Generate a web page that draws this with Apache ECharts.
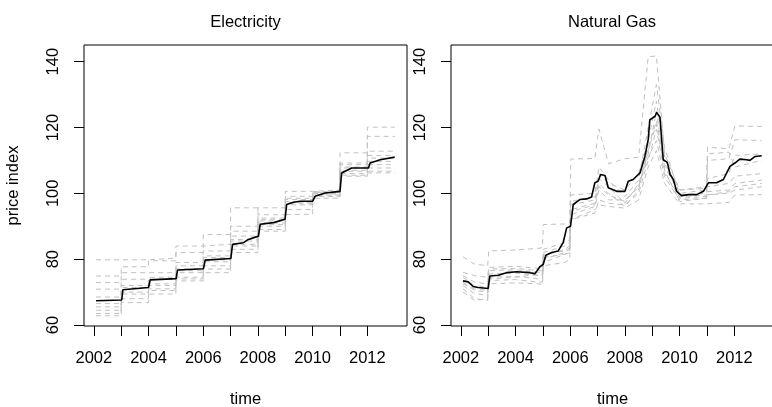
<!DOCTYPE html>
<html>
<head>
<meta charset="utf-8">
<script src="https://cdn.jsdelivr.net/npm/echarts@6/dist/echarts.min.js"></script>
<style>
html,body{margin:0;padding:0;background:#fff;}
#c{width:772px;height:407px;}
</style>
</head>
<body>
<div id="c"></div>
<script>
// ---------- DATA ----------
var panelTitles = ['Electricity', 'Natural Gas'];
var xTicks = [2002, 2003, 2004, 2005, 2006, 2007, 2008, 2009, 2010, 2011, 2012];
var xTickLabels = [2002, 2004, 2006, 2008, 2010, 2012];
var yTicks = [60, 80, 100, 120, 140];

// Electricity: yearly step points for individual (grey dashed) series
var elecYears = [2002.08, 2003, 2004, 2005, 2006, 2007, 2008, 2009, 2010, 2011, 2012, 2013.0];
var elecE1  = [79.8, 79.8, 80.3, 84.0, 84.5, 90.0, 95.6, 100.6, 101.0, 112.3, 120.1, 120.1];
var elecE2  = [74.9, 77.7, 79.5, 82.0, 87.5, 95.6, 93.5, 99.1, 100.3, 109.2, 117.3, 117.3];
var elecE3  = [72.9, 75.9, 75.9, 79.0, 82.5, 88.5, 91.6, 98.1, 100.0, 108.7, 112.8, 112.8];
var elecE4  = [70.9, 73.9, 73.9, 77.0, 81.0, 87.0, 90.0, 97.1, 99.5, 107.7, 111.5, 111.5];
var elecE5  = [68.5, 71.4, 72.5, 75.9, 79.2, 85.5, 88.5, 95.1, 99.0, 106.7, 110.7, 110.7];
var elecE6  = [66.5, 69.4, 69.4, 73.4, 78.0, 83.0, 90.5, 93.6, 98.5, 105.2, 109.7, 109.7];
var elecE7  = [65.5, 66.8, 70.5, 74.5, 75.9, 84.0, 91.0, 96.5, 100.5, 106.0, 108.7, 108.7];
var elecE8  = [64.5, 68.0, 71.0, 74.0, 77.0, 82.0, 89.0, 97.5, 99.8, 107.0, 107.7, 107.7];
var elecE9  = [63.5, 70.0, 74.5, 76.5, 80.5, 86.0, 92.5, 98.5, 100.2, 108.0, 106.7, 106.7];
var elecE10 = [62.8, 72.0, 72.0, 78.0, 79.8, 84.5, 92.0, 97.0, 99.2, 105.5, 106.2, 106.2];

// Electricity: aggregate (black) line
var elecMeanT = [2002.08, 2003.02, 2003.06, 2004.0, 2004.06, 2005.01, 2005.06, 2006.01, 2006.07, 2007.01, 2007.07, 2007.47, 2007.65, 2008.02, 2008.08, 2008.57, 2008.99, 2009.05, 2009.3, 2009.54, 2010.0, 2010.09, 2010.46, 2011.0, 2011.06, 2011.43, 2012.04, 2012.1, 2012.47, 2013.0];
var elecMeanV = [67.35, 67.6, 70.7, 71.4, 73.7, 74.1, 76.7, 77.1, 79.7, 80.2, 84.5, 85.0, 86.0, 87.0, 90.6, 91.1, 92.1, 96.6, 97.3, 97.6, 97.6, 99.1, 100.1, 100.6, 106.2, 107.7, 107.7, 109.2, 110.2, 111.0];

// Natural gas: individual (grey dashed) series on a common time grid
var gasT = [2002.08, 2002.5, 2002.98, 2003.02, 2004.0, 2004.85, 2004.98, 2005.02, 2005.8, 2005.98, 2006.02, 2006.9, 2007.05, 2007.4, 2008.0, 2008.5, 2008.85, 2009.15, 2009.45, 2010.0, 2010.98, 2011.02, 2011.8, 2012.02, 2013.0];
var gasG1 = [80.7, 78.5, 78.0, 82.5, 82.8, 83.3, 83.5, 90.5, 90.7, 91.0, 110.4, 110.6, 119.5, 109.0, 110.5, 111.0, 141.5, 141.7, 112.0, 101.0, 101.5, 114.0, 113.5, 120.5, 120.3];
var gasG2 = [70.0, 67.5, 68.0, 72.5, 72.8, 72.5, 72.3, 78.0, 79.0, 80.0, 92.0, 95.0, 96.5, 96.0, 95.5, 98.0, 108.0, 113.0, 103.0, 96.8, 96.8, 97.0, 97.2, 99.5, 99.6];
var gasG3 = [76.0, 75.0, 74.5, 77.5, 77.8, 77.2, 77.0, 83.0, 85.0, 86.0, 99.5, 100.0, 108.0, 104.0, 99.0, 104.0, 120.0, 133.0, 114.0, 99.5, 100.0, 110.0, 110.5, 116.3, 116.0];
var gasG4 = [74.5, 72.0, 71.5, 76.5, 76.8, 76.0, 76.0, 82.0, 84.0, 85.0, 97.5, 99.0, 106.0, 103.0, 101.0, 106.0, 116.0, 128.0, 111.0, 98.5, 99.0, 104.5, 106.0, 111.5, 112.0];
var gasG5 = [73.0, 70.5, 70.0, 75.5, 75.8, 75.0, 74.8, 81.0, 83.0, 84.0, 96.5, 98.0, 104.5, 102.0, 97.0, 103.0, 112.0, 125.0, 108.0, 100.0, 101.0, 112.0, 112.5, 108.0, 110.0];
var gasG6 = [72.0, 69.5, 69.0, 74.5, 74.8, 74.0, 74.0, 80.0, 82.0, 83.0, 95.0, 97.0, 103.0, 100.0, 96.0, 101.0, 114.0, 122.0, 109.0, 101.0, 102.0, 102.0, 103.0, 105.2, 106.0];
var gasG7 = [71.0, 68.0, 67.5, 73.5, 73.8, 73.0, 73.0, 79.0, 81.5, 82.0, 93.5, 96.0, 101.0, 98.0, 98.0, 102.0, 113.0, 121.0, 107.0, 97.5, 98.5, 100.5, 101.0, 103.0, 104.0];
var gasG8 = [75.0, 73.0, 72.5, 77.0, 77.2, 76.5, 76.5, 81.5, 82.5, 83.5, 92.0, 94.0, 98.0, 97.0, 96.5, 100.0, 110.0, 119.5, 106.0, 99.0, 99.5, 99.5, 100.0, 101.0, 102.0];
var gasG9 = [72.5, 71.0, 70.5, 74.0, 74.5, 75.5, 75.5, 80.5, 81.5, 82.5, 94.5, 96.5, 102.0, 99.5, 97.5, 102.0, 111.0, 116.0, 105.0, 98.0, 98.5, 99.5, 100.5, 102.0, 103.0];

// Natural gas: aggregate (black) line
var gasMeanT = [2002.08, 2002.27, 2002.45, 2002.63, 2003.0, 2003.06, 2003.37, 2003.67, 2004.04, 2004.52, 2004.71, 2004.89, 2005.01, 2005.11, 2005.32, 2005.56, 2005.74, 2005.87, 2006.01, 2006.11, 2006.35, 2006.6, 2006.78, 2006.9, 2007.02, 2007.11, 2007.27, 2007.39, 2007.7, 2008.0, 2008.12, 2008.3, 2008.55, 2008.73, 2008.85, 2008.91, 2009.1, 2009.16, 2009.28, 2009.4, 2009.55, 2009.65, 2009.77, 2009.89, 2010.07, 2010.32, 2010.62, 2010.87, 2011.05, 2011.35, 2011.6, 2011.84, 2012.02, 2012.2, 2012.45, 2012.57, 2012.76, 2013.0];
var gasMeanV = [73.4, 73.1, 71.7, 71.4, 71.1, 74.9, 75.1, 75.9, 76.2, 75.9, 75.6, 77.7, 78.4, 81.2, 82.0, 82.5, 85.0, 89.5, 90.0, 96.6, 98.1, 98.3, 98.9, 103.2, 103.7, 105.7, 105.4, 101.7, 100.6, 100.6, 103.7, 104.2, 106.2, 111.2, 116.3, 122.3, 123.4, 124.6, 123.1, 110.2, 109.4, 105.7, 104.2, 100.6, 99.3, 99.6, 99.6, 100.6, 103.2, 103.2, 104.2, 108.2, 109.2, 110.4, 110.2, 110.0, 111.2, 111.4];

// ---------- BUILD ----------
function pairs(t, v) { return t.map(function (x, i) { return [x, v[i]]; }); }

var elecGrey = [elecE1, elecE2, elecE3, elecE4, elecE5, elecE6, elecE7, elecE8, elecE9, elecE10];
var gasGrey = [gasG1, gasG2, gasG3, gasG4, gasG5, gasG6, gasG7, gasG8, gasG9];

var FONT = 'Liberation Sans, Arial, Helvetica, sans-serif';
var FS = 16.5;
var greyStyle = { color: '#c0c0c0', width: 1, type: [5, 4] };
var blackStyle = { color: '#000', width: 1.6 };

var grids = [
  { left: 84, top: 45, width: 323, height: 281 },
  { left: 451, top: 45, width: 323, height: 281 }
];

var series = [];
elecGrey.forEach(function (v) {
  series.push({ type: 'line', xAxisIndex: 0, yAxisIndex: 0, step: 'end', data: pairs(elecYears, v),
    symbol: 'none', lineStyle: greyStyle, silent: true, z: 2 });
});
series.push({ type: 'line', xAxisIndex: 0, yAxisIndex: 0, data: pairs(elecMeanT, elecMeanV),
  symbol: 'none', lineStyle: blackStyle, z: 3 });
gasGrey.forEach(function (v) {
  series.push({ type: 'line', xAxisIndex: 1, yAxisIndex: 1, data: pairs(gasT, v),
    symbol: 'none', lineStyle: greyStyle, silent: true, z: 2 });
});
series.push({ type: 'line', xAxisIndex: 1, yAxisIndex: 1, data: pairs(gasMeanT, gasMeanV),
  symbol: 'none', lineStyle: blackStyle, z: 3 });

function xAxis(i) {
  return {
    type: 'value', gridIndex: i, min: 2001.64, max: 2013.45,
    name: 'time', nameLocation: 'middle', nameGap: 65,
    nameTextStyle: { color: '#000', fontFamily: FONT, fontSize: FS },
    axisLine: { show: false },
    axisTick: { show: true, length: 10, customValues: xTicks, lineStyle: { color: '#000', width: 1 } },
    axisLabel: { show: true, margin: 24, customValues: xTickLabels, color: '#000', fontFamily: FONT, fontSize: FS,
      formatter: function (v) { return String(v); } },
    splitLine: { show: false }
  };
}
function yAxis(i) {
  var a = {
    type: 'value', gridIndex: i, min: 59.7, max: 145.05,
    axisLine: { show: false },
    axisTick: { show: true, length: 10, customValues: yTicks, lineStyle: { color: '#000', width: 1 } },
    axisLabel: { show: true, rotate: 90, margin: 22, customValues: yTicks, color: '#000', fontFamily: FONT, fontSize: FS },
    splitLine: { show: false }
  };
  if (i === 0) {
    a.name = 'price index';
    a.nameLocation = 'middle';
    a.nameRotate = 90;
    a.nameGap = 62;
    a.nameTextStyle = { color: '#000', fontFamily: FONT, fontSize: FS };
  }
  return a;
}

var option = {
  animation: false,
  backgroundColor: '#fff',
  grid: grids.map(function (g) {
    return Object.assign({ show: true, borderColor: '#000', borderWidth: 1, backgroundColor: 'transparent',
      containLabel: false, outerBoundsMode: 'none' }, g);
  }),
  xAxis: [xAxis(0), xAxis(1)],
  yAxis: [yAxis(0), yAxis(1)],
  graphic: [
    { type: 'text', x: 245.5, y: 22, style: { text: panelTitles[0], fill: '#000', font: FS + 'px ' + FONT, textAlign: 'center', textVerticalAlign: 'middle' } },
    { type: 'text', x: 612, y: 22, style: { text: panelTitles[1], fill: '#000', font: FS + 'px ' + FONT, textAlign: 'center', textVerticalAlign: 'middle' } }
  ],
  series: series
};

var chart = echarts.init(document.getElementById('c'), null, { renderer: 'canvas' });
chart.setOption(option);
</script>
</body>
</html>
